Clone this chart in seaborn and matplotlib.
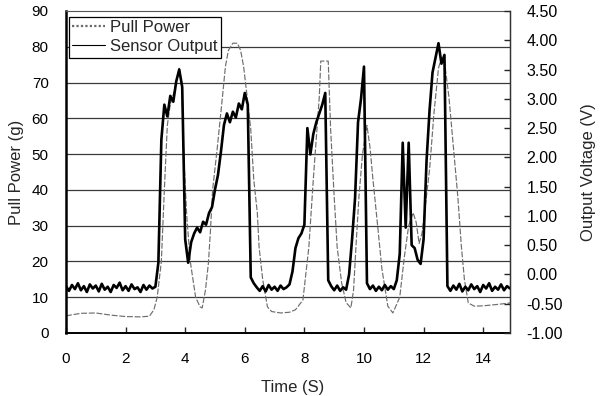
import numpy as np
import pandas as pd
import matplotlib
matplotlib.use("Agg")
import matplotlib.pyplot as plt
from matplotlib.lines import Line2D
import seaborn as sns

# ---------------- data ----------------
pull_time = [0, 0.5, 1.0, 1.5, 2.0, 2.5, 2.8, 2.95, 3.06, 3.2, 3.3, 3.4, 3.5, 3.65,
             3.8, 3.88, 3.95, 4.05, 4.17, 4.35, 4.5, 4.57, 4.68, 4.78, 4.85, 4.92,
             5.08, 5.25, 5.35, 5.45, 5.6, 5.75, 5.86, 5.96, 6.08, 6.2, 6.3, 6.42,
             6.48, 6.6, 6.76, 6.9, 7.2, 7.5, 7.7, 7.95, 8.15, 8.3, 8.5, 8.55, 8.8,
             8.88, 9.0, 9.1, 9.25, 9.4, 9.56, 9.65, 9.73, 9.83, 9.95, 10.1, 10.2,
             10.3, 10.47, 10.6, 10.8, 10.97, 11.2, 11.35, 11.5, 11.65, 11.75, 11.85,
             11.95, 12.05, 12.2, 12.35, 12.5, 12.6, 12.7, 12.85, 13.0, 13.15, 13.27,
             13.37, 13.5, 13.7, 14.0, 14.5, 14.9]
pull_power = [4.8, 5.5, 5.6, 5.0, 4.6, 4.5, 4.7, 6.5, 10, 20, 40, 58, 64, 68,
              74, 70, 50, 33, 20, 10, 7.3, 7.0, 12, 19.6, 29, 40,
              52, 66, 74.5, 79, 81, 81, 79, 74.5, 66, 57, 43, 33.6,
              24, 15, 7.3, 6.0, 5.6, 5.8, 6.5, 9.2, 24, 43, 66, 76, 76,
              57, 38, 24, 14, 8.5, 7.0, 12, 24, 38, 50, 58, 52,
              43, 29, 18, 7.5, 5.6, 10, 21, 30, 33.6, 31, 25,
              28, 35, 45.6, 61.6, 74, 77, 76, 66, 52, 38, 24,
              15, 8.4, 7.5, 7.6, 8.0, 8.4]

sensor_output = [
    -0.20, -0.28, -0.18, -0.25, -0.15, -0.27, -0.20, -0.30, -0.17, -0.24,
    -0.19, -0.29, -0.16, -0.26, -0.21, -0.30, -0.18, -0.23, -0.14, -0.27,
    -0.20, -0.28, -0.17, -0.25, -0.22, -0.30, -0.18, -0.26, -0.19, -0.24,
    -0.21,
    0.20, 2.30, 2.90, 2.70, 3.05, 2.95, 3.30, 3.50, 3.20,
    0.60, 0.20, 0.55, 0.70, 0.80, 0.72, 0.90, 0.85, 1.05, 1.15,
    1.45, 1.70, 2.10, 2.55, 2.75, 2.60, 2.78, 2.68, 2.92, 2.82,
    3.10, 2.90, -0.05, -0.15, -0.22, -0.28, -0.20, -0.29, -0.18, -0.26,
    -0.21, -0.28, -0.19, -0.25, -0.22, -0.17, 0.05, 0.45, 0.62, 0.70,
    0.85, 2.50, 2.05, 2.40, 2.60, 2.75, 2.90, 3.10, -0.10, -0.20,
    -0.27, -0.19, -0.28, -0.22, -0.26, 0.00, 0.60, 1.30, 2.60, 3.00,
    3.55, -0.15, -0.25, -0.19, -0.28, -0.21, -0.27, -0.18, -0.26, -0.20,
    -0.25, -0.10, 0.35, 2.25, 0.80, 2.25, 0.50, 0.45, 0.25, 0.18,
    0.60, 1.95, 2.80, 3.45, 3.70, 3.95, 3.60, 3.75, -0.20, -0.28,
    -0.19, -0.26, -0.16, -0.29, -0.21, -0.27, -0.17, -0.25, -0.20, -0.30,
    -0.18, -0.24, -0.15, -0.28, -0.21, -0.26, -0.17, -0.27, -0.20, -0.24,
]
sample_step = 0.1
sensor_time = np.round(np.arange(len(sensor_output)) * sample_step, 2)

left_ticks = [0, 10, 20, 30, 40, 50, 60, 70, 80, 90]
right_ticks = [-1.0, -0.5, 0.0, 0.5, 1.0, 1.5, 2.0, 2.5, 3.0, 3.5, 4.0, 4.5]
x_ticks = [0, 2, 4, 6, 8, 10, 12, 14]

df_pull = pd.DataFrame({"t": pull_time, "v": pull_power})
df_sens = pd.DataFrame({"t": sensor_time, "v": sensor_output})

# ---------------- style ----------------
sns.set_style("white")
plt.rcParams["font.family"] = ["Liberation Sans", "DejaVu Sans"]
plt.rcParams["axes.unicode_minus"] = False

fig = plt.figure(figsize=(6.08, 3.96), dpi=100)
ax = fig.add_axes([66 / 608, 1 - 333 / 396, (510 - 66) / 608, (333 - 11) / 396])
ax2 = ax.twinx()

sns.lineplot(data=df_pull, x="t", y="v", ax=ax, color="#6e6e6e", lw=0.85,
             linestyle=(0, (5, 1.5)), estimator=None, sort=False, legend=False)
sns.lineplot(data=df_sens, x="t", y="v", ax=ax2, color="black", lw=1.9,
             estimator=None, sort=False, legend=False)

ax.set_xlim(0, 14.9)
ax.set_ylim(0, 90)
ax2.set_ylim(-1, 4.5)
ax.set_xticks(x_ticks)
ax.set_yticks(left_ticks)
ax2.set_yticks(right_ticks)
ax2.set_yticklabels([f"{v:.2f}" for v in right_ticks])

# grid lines at left-axis ticks
for g in left_ticks[1:-1]:
    ax.axhline(g, color="#3a3a3a", lw=0.9, zorder=0)

for a in (ax, ax2):
    for s in a.spines.values():
        s.set_visible(True)
ax.spines["left"].set_linewidth(1.8)
ax.spines["left"].set_color("black")
ax.spines["bottom"].set_linewidth(1.4)
ax.spines["bottom"].set_color("black")
ax.spines["top"].set_linewidth(0.8)
ax.spines["top"].set_color("#555555")
ax2.spines["right"].set_linewidth(1.0)
ax2.spines["right"].set_color("#333333")
ax2.spines["left"].set_visible(False)
ax2.spines["top"].set_visible(False)
ax2.spines["bottom"].set_visible(False)

ax.tick_params(axis="y", which="both", left=False, right=False, pad=9,
               labelsize=11, labelcolor="black")
ax.tick_params(axis="x", direction="in", length=4, width=1, bottom=True,
               pad=14, labelsize=11, labelcolor="black")
ax2.tick_params(axis="y", direction="in", length=4, width=1, right=True,
                pad=12, labelsize=11.5, labelcolor="black")

ax.set_xlabel("Time (S)", fontsize=12)
ax.xaxis.set_label_coords(0.51, -0.145)
ax.set_ylabel("Pull Power (g)", fontsize=12)
ax.yaxis.set_label_coords(-0.095, 0.5)
ax2.set_ylabel("Output Voltage (V)", fontsize=12)
ax2.yaxis.set_label_coords(1.16, 0.5)

handles = [Line2D([], [], color="#6a6a6a", lw=1.6, linestyle=(0, (1, 1))),
           Line2D([], [], color="black", lw=0.8)]
leg = ax2.legend(handles, ["Pull Power", "Sensor Output"], loc="upper left",
                 bbox_to_anchor=(0.0, 0.99), fontsize=12, frameon=True,
                 fancybox=False, framealpha=1, edgecolor="black",
                 handlelength=2.0, handletextpad=0.3, borderpad=0.2,
                 labelspacing=0.25, borderaxespad=0.15)
leg.get_frame().set_linewidth(0.9)

fig.savefig("out.png", dpi=100, facecolor="white")
